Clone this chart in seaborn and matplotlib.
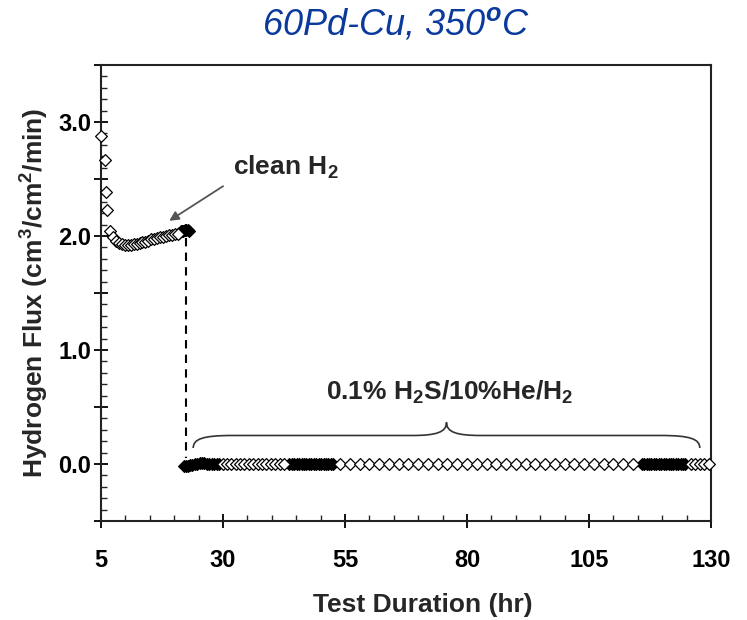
import numpy as np
import pandas as pd
import matplotlib
matplotlib.use("Agg")
import matplotlib.pyplot as plt
import seaborn as sns
from matplotlib.path import Path
from matplotlib.patches import PathPatch
from matplotlib.ticker import MultipleLocator

# clean H2 period (open diamonds, then the dense stretch near the switch)
t_clean = [5.1, 5.8, 6.1, 6.2, 6.9, 7.5, 8.1, 8.7, 9.3, 9.9, 10.5, 11.1, 11.7,
           12.3, 12.9, 13.5, 14.1, 14.7, 15.3, 15.9, 16.5, 17.1, 17.7, 18.3,
           18.9, 19.5, 20.1, 20.7]
flux_clean = [2.88, 2.67, 2.39, 2.23, 2.04, 1.99, 1.96, 1.94, 1.93, 1.92, 1.92,
              1.92, 1.93, 1.93, 1.94, 1.95, 1.95, 1.96, 1.97, 1.97, 1.98, 1.99,
              1.99, 2.00, 2.01, 2.01, 2.02, 2.02]
t_clean_dense = [21.0, 21.3, 21.6, 21.9, 22.2, 22.5, 22.8, 23.1]
flux_clean_dense = [2.03, 2.04, 2.04, 2.04, 2.05, 2.05, 2.05, 2.04]

# H2S exposure: open diamonds and densely logged stretches
t_h2s = [29.9, 30.8, 31.7, 32.6, 33.5, 34.4, 35.3, 36.2, 37.1, 38.0, 38.9,
         39.8, 40.7, 41.6, 42.5,
         54.0, 56.0, 58.0, 60.0, 62.0, 64.0, 66.0, 68.0, 70.0, 72.0, 74.0,
         76.0, 78.0, 80.0, 82.0, 84.0, 86.0, 88.0, 90.0, 92.0, 94.0, 96.0,
         98.0, 100.0, 102.0, 104.0, 106.0, 108.0, 110.0, 112.0, 114.0,
         125.9, 126.8, 127.7, 128.6, 129.5]
flux_h2s = [0.0] * 51
t_h2s_dense = [22.0, 22.4, 22.8, 23.2, 23.7, 24.2, 24.7, 25.2, 25.7, 26.2, 26.7,
               27.2, 27.7, 28.2, 28.7, 29.1,
               43.6, 44.1, 44.6, 45.1, 45.6, 46.1, 46.6, 47.1, 47.6, 48.1,
               48.6, 49.1, 49.6, 50.1, 50.6, 51.1, 51.6, 52.1, 52.6,
               115.8, 116.3, 116.8, 117.3, 117.8, 118.3, 118.8, 119.3, 119.8,
               120.3, 120.8, 121.3, 121.8, 122.3, 122.8, 123.3, 123.8, 124.3,
               124.7]
flux_h2s_dense = [-0.02, -0.02, -0.02, -0.01, -0.01, 0.0, 0.0, 0.01, 0.01, 0.01, 0.0,
                  0.0, 0.0, 0.0, 0.0, 0.0,
                  0.0, 0.0, 0.0, 0.0, 0.0, 0.0, 0.0, 0.0, 0.0, 0.0,
                  0.0, 0.0, 0.0, 0.0, 0.0, 0.0, 0.0, 0.0, 0.0,
                  0.0, 0.0, 0.0, 0.0, 0.0, 0.0, 0.0, 0.0, 0.0,
                  0.0, 0.0, 0.0, 0.0, 0.0, 0.0, 0.0, 0.0, 0.0, 0.0]

x_ticks = [5, 30, 55, 80, 105, 130]
y_ticks = [-0.5, 0.0, 0.5, 1.0, 1.5, 2.0, 2.5, 3.0, 3.5]
y_ticklabels = ["", "0.0", "", "1.0", "", "2.0", "", "3.0", ""]
switch_time = 22.4

open_df = pd.DataFrame({"t": t_clean + t_h2s, "flux": flux_clean + flux_h2s})
dense_df = pd.DataFrame({"t": t_clean_dense + t_h2s_dense,
                         "flux": flux_clean_dense + flux_h2s_dense})

sns.set_style("ticks")
plt.rcParams["font.family"] = ["Liberation Sans", "DejaVu Sans"]
plt.rcParams["font.weight"] = "bold"
plt.rcParams["mathtext.fontset"] = "custom"
plt.rcParams["mathtext.rm"] = "Liberation Sans"
plt.rcParams["mathtext.it"] = "Liberation Sans:italic"
plt.rcParams["mathtext.bf"] = "Liberation Sans:bold"

fig = plt.figure(figsize=(7.47, 6.2), dpi=100)
ax = fig.add_axes([0.1352, 0.1597, 0.8166, 0.7355])

sns.scatterplot(data=dense_df, x="t", y="flux", marker="D", s=36,
                color="black", edgecolor="black", linewidth=0.9, ax=ax,
                zorder=3, clip_on=False)
sns.scatterplot(data=open_df, x="t", y="flux", marker="D", s=36,
                facecolor="white", edgecolor="black", linewidth=0.9, ax=ax,
                zorder=4, clip_on=False)

# switch from clean H2 to H2S feed
ax.plot([switch_time, switch_time], [1.98, 0.05], ls=(0, (4, 3)), color="black", lw=1.5)

ax.set_xlim(5, 130)
ax.set_ylim(-0.5, 3.5)
ax.set_xticks(x_ticks)
ax.set_xticklabels([str(v) for v in x_ticks])
ax.set_yticks(y_ticks)
ax.set_yticklabels(y_ticklabels)
ax.xaxis.set_minor_locator(MultipleLocator(5))
ax.yaxis.set_minor_locator(MultipleLocator(0.1))
ax.tick_params(which="major", direction="inout", length=10, width=1.3,
               labelsize=17, colors="black")
ax.tick_params(which="minor", direction="in", length=4, width=1)
ax.tick_params(axis="x", which="major", pad=15)
ax.tick_params(axis="y", which="major", pad=2)
for s in ax.spines.values():
    s.set_linewidth(1.5)
    s.set_color("#222222")
ax.set_xlabel("Test Duration (hr)", fontsize=19, fontweight="bold", va="center")
ax.set_ylabel("Hydrogen Flux (cm$^\\mathbf{3}$/cm$^\\mathbf{2}$/min)",
              fontsize=19, fontweight="bold", va="center")
ax.xaxis.set_label_coords(0.528, -0.184)
ax.yaxis.set_label_coords(-0.108, 0.5)

fig.text(0.530, 0.960, "60Pd-Cu, 350$^\\mathit{o}$C", ha="center", va="center",
         fontsize=26, style="italic", fontweight="normal", color="#0a3a9c")

ax.annotate("", xy=(18.5, 2.12), xytext=(30.5, 2.45),
            arrowprops=dict(arrowstyle="-|>", color="#555555", lw=1.3,
                            mutation_scale=14))
ax.text(32.0, 2.6, "clean H$_\\mathbf{2}$", fontsize=19, fontweight="bold",
        ha="left", va="center")
ax.text(76.5, 0.63, "0.1% H$_\\mathbf{2}$S/10%He/H$_\\mathbf{2}$", fontsize=19,
        fontweight="bold", ha="center", va="center")

# curly brace over the H2S period
xl, xr = 23.9, 127.7
xc = (xl + xr) / 2
yb, ym, yt = 0.14, 0.25, 0.365
verts = [(xl, yb), (xl, 0.22), (xl + 2, ym), (xl + 8, ym),
         (xc - 7, ym),
         (xc - 2, ym), (xc, 0.28), (xc, yt),
         (xc, 0.28), (xc + 2, ym), (xc + 7, ym),
         (xr - 8, ym),
         (xr - 2, ym), (xr, 0.22), (xr, yb)]
codes = [Path.MOVETO, Path.CURVE4, Path.CURVE4, Path.CURVE4,
         Path.LINETO,
         Path.CURVE4, Path.CURVE4, Path.CURVE4,
         Path.CURVE4, Path.CURVE4, Path.CURVE4,
         Path.LINETO,
         Path.CURVE4, Path.CURVE4, Path.CURVE4]
ax.add_patch(PathPatch(Path(verts, codes), fill=False, color="#333333", lw=1.2))

plt.savefig("out.png", dpi=100)
